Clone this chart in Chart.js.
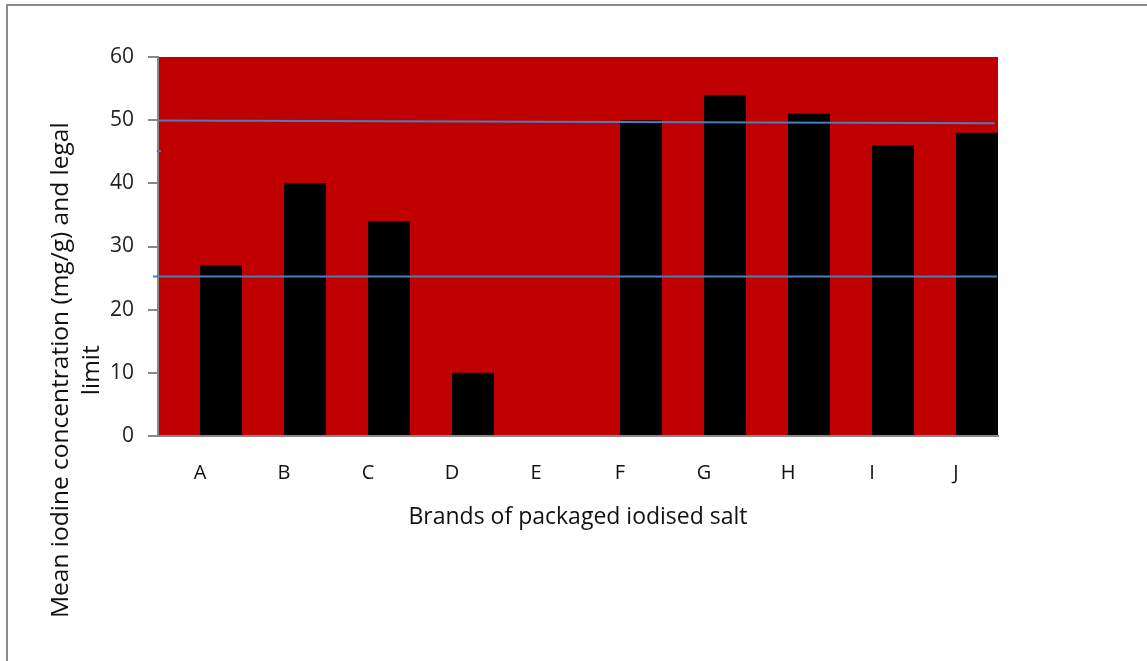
<!DOCTYPE html>
<html>
<head>
<meta charset="utf-8">
<script src="https://cdn.jsdelivr.net/npm/chart.js@4.4.0/dist/chart.umd.min.js"></script>
<style>
  html, body { margin: 0; padding: 0; background: #ffffff; }
  #wrap { position: relative; width: 1147px; height: 661px; overflow: hidden; }
  #frame { position: absolute; left: 6px; top: 4px; width: 1200px; height: 700px;
           border-left: 2px solid #8a8a8a; border-top: 2px solid #8a8a8a; }
  #c { position: absolute; left: 0; top: 0; }
</style>
</head>
<body>
<div id="wrap">
  <div id="frame"></div>
  <canvas id="c" width="1147" height="661"></canvas>
</div>
<script>
// Brands and their mean iodine content (mg/g)
const brands = ['A', 'B', 'C', 'D', 'E', 'F', 'G', 'H', 'I', 'J'];
const meanIodine = [27, 40, 34, 10, 0, 50, 54, 51, 46, 48];
const yTickValues = [0, 10, 20, 30, 40, 50, 60];

// legal limit lines, x runs 0..1 across the plot
const upperLimit = [{ x: 0, y: 49.95 }, { x: 0.996, y: 49.5 }];
const lowerLimit = [{ x: -0.006, y: 25.25 }, { x: 0.999, y: 25.25 }];
const stubMark = [{ x: -0.0015, y: 45.1 }, { x: 0.0035, y: 45.1 }];

const xTitle = 'Brands of packaged iodised salt';
const yTitleLines = ['Mean iodine concentration (mg/g) and legal', 'limit'];

// each brand's bar sits in the second (right) half of its slot,
// as the second member of a two-series cluster
const SERIES_SLOT = 0.25;
const iodineBars = meanIodine.map((v, i) => ({ x: i + SERIES_SLOT, y: v }));

const FONT = "'Open Sans', 'Noto Sans', sans-serif";
const LIMIT_BLUE = '#4a7ebb';

const plotFill = {
  id: 'plotFill',
  beforeDraw(chart) {
    const { ctx, chartArea: a } = chart;
    ctx.save();
    ctx.fillStyle = '#c00000';
    ctx.fillRect(a.left, a.top, a.right - a.left, a.bottom - a.top);
    ctx.restore();
  }
};

// rotated two-line y axis title
const yTitle = {
  id: 'yTitle',
  afterDraw(chart) {
    const ctx = chart.ctx;
    ctx.save();
    ctx.font = '24.5px ' + FONT;
    ctx.fillStyle = '#111111';
    ctx.textBaseline = 'alphabetic';
    const w0 = ctx.measureText(yTitleLines[0]).width;
    const startY = 618;
    const centerY = startY - w0 / 2;
    const baselines = [68, 99];
    yTitleLines.forEach((line, i) => {
      ctx.save();
      ctx.translate(baselines[i], centerY);
      ctx.rotate(-Math.PI / 2);
      ctx.textAlign = 'center';
      ctx.fillText(line, 0, 0);
      ctx.restore();
    });
    ctx.restore();
  }
};

new Chart(document.getElementById('c'), {
  type: 'bar',
  data: {
    labels: brands,
    datasets: [
      { label: 'Mean iodine', data: iodineBars, xAxisID: 'xBar', backgroundColor: '#000000',
        categoryPercentage: 0.5, barPercentage: 1.0, grouped: false, order: 2 },
      { type: 'line', label: 'Upper limit', data: upperLimit, xAxisID: 'xLine',
        borderColor: LIMIT_BLUE, borderWidth: 2, pointRadius: 0, clip: false, order: 0 },
      { type: 'line', label: 'Lower limit', data: lowerLimit, xAxisID: 'xLine',
        borderColor: LIMIT_BLUE, borderWidth: 2, pointRadius: 0, clip: false, order: 0 },
      { type: 'line', label: 'stub', data: stubMark, xAxisID: 'xLine',
        borderColor: LIMIT_BLUE, borderWidth: 2, pointRadius: 0, clip: false, order: 0 }
    ]
  },
  options: {
    responsive: false,
    animation: false,
    events: [],
    layout: { padding: { left: 0, top: 57, right: 149, bottom: 0 } },
    plugins: { legend: { display: false }, tooltip: { enabled: false } },
    scales: {
      x: {
        type: 'category',
        offset: true,
        grid: { display: false, drawTicks: false, offset: true },
        border: { display: true, color: '#878787', width: 2 },
        ticks: { color: '#111111', font: { family: FONT, size: 20 }, padding: 25 },
        title: { display: true, text: xTitle, color: '#111111',
                 font: { family: FONT, size: 23 }, padding: { top: 0, bottom: 130 } },
        afterFit(scale) { scale.height = 225; }
      },
      xBar: {
        type: 'linear', display: false, offset: false,
        min: -0.5, max: brands.length - 0.5,
        ticks: { stepSize: 1 }, grid: { offset: false }
      },
      xLine: {
        type: 'linear', display: false, offset: false, min: 0, max: 1,
        grid: { offset: false }
      },
      y: {
        min: 0, max: 60,
        afterBuildTicks(scale) { scale.ticks = yTickValues.map(v => ({ value: v })); },
        grid: { drawOnChartArea: false, drawTicks: true, tickLength: 10,
                color: '#878787', lineWidth: 2 },
        border: { display: true, color: '#878787', width: 2 },
        ticks: { color: '#222222', font: { family: FONT, size: 21 }, padding: 14 },
        afterFit(scale) { scale.width = 158; }
      }
    }
  },
  plugins: [plotFill, yTitle]
});
</script>
</body>
</html>
